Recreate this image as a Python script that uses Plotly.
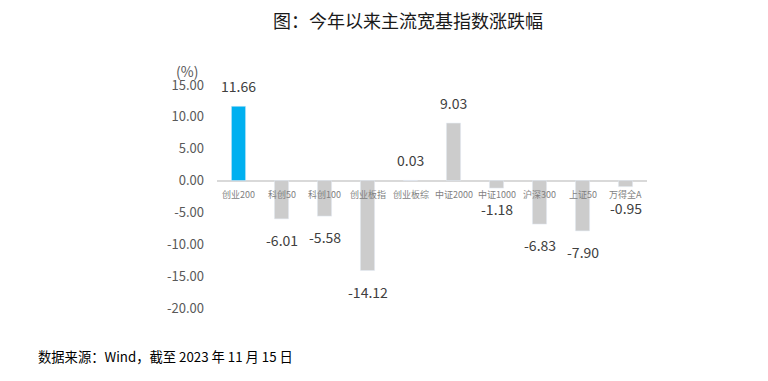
import plotly.graph_objects as go

categories = ["创业200", "科创50", "科创100", "创业板指", "创业板综", "中证2000", "中证1000", "沪深300", "上证50", "万得全A"]
values = [11.66, -6.01, -5.58, -14.12, 0.03, 9.03, -1.18, -6.83, -7.90, -0.95]
highlight = "创业200"
tick_vals = [15, 10, 5, 0, -5, -10, -15, -20]

colors = ["#00B0F0" if c == highlight else "#CCCCCC" for c in categories]

FONT = "Noto Sans CJK SC, Noto Sans, sans-serif"

W, H = 768, 381
L, R, T, B = 209, 129, 77, 81
PW, PH = W - L - R, H - T - B


def px(x):
    return (x - L) / PW


def py(y):
    return (H - B - y) / PH


fig = go.Figure()
fig.add_trace(go.Bar(x=categories, y=values, marker_color=colors, width=0.33, showlegend=False))

annotations = []
for c, v in zip(categories, values):
    annotations.append(dict(x=c, y=v, xref="x", yref="y", text=f"{v:.2f}", showarrow=False,
                            yanchor="bottom" if v >= 0 else "top", yshift=8 if v >= 0 else -9,
                            font=dict(family=FONT, size=14, color="#404040")))
    annotations.append(dict(x=c, y=0, xref="x", yref="y", text=c, showarrow=False,
                            yanchor="top", yshift=-5,
                            font=dict(family=FONT, size=9, color="#7F7F7F")))

annotations.append(dict(x=0, y=1, xref="paper", yref="paper", text="(%)", showarrow=False,
                        xanchor="right", yanchor="middle", xshift=-17, yshift=14,
                        font=dict(family=FONT, size=14, color="#595959")))
annotations.append(dict(x=px(28), y=py(348), xref="paper", yref="paper",
                        text="数据来源：Wind，截至 2023 年 11 月 15 日",
                        showarrow=False, xanchor="left", yanchor="middle",
                        font=dict(family=FONT, size=13.3, color="#000000")))

fig.update_layout(
    width=W, height=H,
    margin=dict(l=L, r=R, t=T, b=B),
    paper_bgcolor="white", plot_bgcolor="white",
    title=dict(text="图：今年以来主流宽基指数涨跌幅", x=400 / W, xanchor="center", y=1 - 14 / H, yanchor="middle",
               font=dict(family=FONT, size=18, color="#1A1A1A")),
    xaxis=dict(showticklabels=False, showgrid=False, zeroline=False, showline=False, ticks=""),
    yaxis=dict(range=[-20, 15], tickvals=tick_vals, ticktext=[f"{t:.2f}" for t in tick_vals],
               showgrid=False, zeroline=True, zerolinecolor="#D9D9D9", zerolinewidth=1.5,
               tickfont=dict(family=FONT, size=13, color="#595959"), ticks="", ticklabelstandoff=12),
    annotations=annotations,
    bargap=0.67,
)

fig.write_html("out.html")
